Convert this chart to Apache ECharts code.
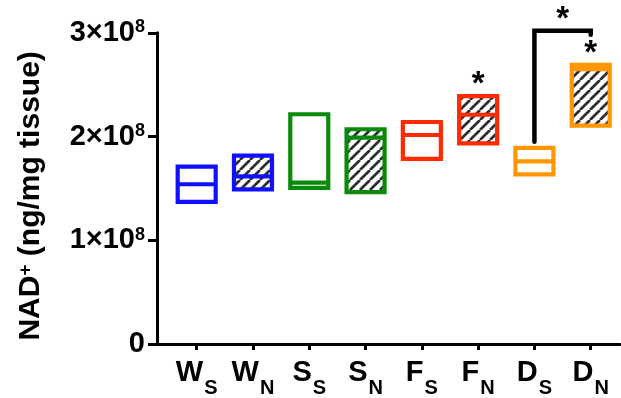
<!DOCTYPE html>
<html>
<head>
<meta charset="utf-8">
<title>NAD+ levels</title>
<script src="https://cdn.jsdelivr.net/npm/echarts@6/dist/echarts.min.js"></script>
<style>
  html, body { margin: 0; padding: 0; background: #fff; }
  #chart { width: 621px; height: 398px; }
</style>
</head>
<body>
<div id="chart"></div>
<script>
// Groups: letter + subscript (S / N)
const categories = ['WS', 'WN', 'SS', 'SN', 'FS', 'FN', 'DS', 'DN'];
// Floating bars: min, max and median line (ng/mg tissue)
const lows    = [1.37e8, 1.49e8, 1.505e8, 1.465e8, 1.785e8, 1.935e8, 1.635e8, 2.105e8];
const highs   = [1.71e8, 1.815e8, 2.215e8, 2.07e8, 2.14e8, 2.39e8, 1.89e8, 2.69e8];
const medians = [1.54e8, 1.615e8, 1.555e8, 1.99e8, 2.015e8, 2.21e8, 1.76e8, 2.65e8];
const hatched = [false, true, false, true, false, true, false, true];
const stars   = ['', '', '', '', '', '*', '', '*'];
// Comparison bracket between D_S and D_N
const bracketX = [6, 7];
const bracketY = [1.95e8, 3.02e8, 2.98e8]; // left end, top, right end
const bracketMark = '*';
const yTicks = [0, 1e8, 2e8, 3e8];

const colors = ['#1010ff', '#1010ff', '#0a8a0a', '#0a8a0a', '#ff2a00', '#ff2a00', '#ff9600', '#ff9600'];
const FONT = '"Liberation Sans", Arial, Helvetica, sans-serif';

// diagonal hatch tile
function makeHatch() {
  const P = 10;
  const c = document.createElement('canvas');
  c.width = P; c.height = P;
  const g = c.getContext('2d');
  g.fillStyle = '#fff';
  g.fillRect(0, 0, P, P);
  g.strokeStyle = '#2e2e2e';
  g.lineWidth = 2.7;
  for (let k = -1; k <= 1; k++) {
    g.beginPath();
    g.moveTo(k * P, P);
    g.lineTo(k * P + P, 0);
    g.stroke();
  }
  return c;
}
const hatchPattern = { image: makeHatch(), repeat: 'repeat' };

const chart = echarts.init(document.getElementById('chart'), null, { renderer: 'canvas' });

const boxData = categories.map((c, i) => [i, lows[i], highs[i], medians[i]]);

function sciLabel(v) {
  if (v === 0) return '{m|0}';
  const e = Math.floor(Math.log10(v));
  const m = Math.round(v / Math.pow(10, e));
  return '{m|' + m + '×10}{s|' + e + '}';
}

const option = {
  animation: false,
  backgroundColor: '#fff',
  grid: { left: 157, right: 1, top: 32.8, bottom: 53.5, containLabel: false },
  xAxis: {
    type: 'value',
    min: -0.705,
    max: 7.52,
    splitLine: { show: false },
    axisLine: { show: true, onZero: false, lineStyle: { color: '#000', width: 3 } },
    axisTick: { show: true, length: 6, lineStyle: { color: '#000', width: 3 },
      customValues: categories.map((c, i) => i) },
    axisLabel: {
      customValues: categories.map((c, i) => i),
      margin: 14,
      formatter: v => {
        const c = categories[Math.round(v)] || '';
        return '{m|' + c[0] + '}{s|' + c[1] + '}';
      },
      rich: {
        m: { fontFamily: FONT, fontWeight: 'bold', fontSize: 29, lineHeight: 29, color: '#000', verticalAlign: 'top' },
        s: { fontFamily: FONT, fontWeight: 'bold', fontSize: 20, lineHeight: 20, color: '#000', verticalAlign: 'top', padding: [20, 0, 0, 1] }
      }
    }
  },
  yAxis: {
    type: 'value',
    min: 0,
    max: 3e8,
    interval: 1e8,
    splitLine: { show: false },
    axisLine: { show: true, onZero: false, lineStyle: { color: '#000', width: 3 } },
    axisTick: { show: true, length: 9, lineStyle: { color: '#000', width: 3 } },
    axisLabel: {
      customValues: yTicks,
      margin: 12,
      formatter: sciLabel,
      rich: {
        m: { fontFamily: FONT, fontWeight: 'bold', fontSize: 29, lineHeight: 29, color: '#000', padding: [5, 0, 5, 0], verticalAlign: 'middle' },
        s: { fontFamily: FONT, fontWeight: 'bold', fontSize: 18, lineHeight: 18, color: '#000', verticalAlign: 'top' }
      }
    },
    name: '{t|NAD}{p|+}{t| (ng/mg tissue)}',
    nameLocation: 'middle',
    nameRotate: 90,
    nameGap: 111,
    nameTextStyle: {
      padding: [0, 15, 0, 0],
      rich: {
        t: { fontFamily: FONT, fontWeight: 'bold', fontSize: 30, lineHeight: 30, color: '#000', verticalAlign: 'bottom' },
        p: { fontFamily: FONT, fontWeight: 'bold', fontSize: 19, lineHeight: 19, color: '#000', verticalAlign: 'top' }
      }
    }
  },
  series: [
    {
      type: 'custom',
      data: boxData,
      encode: { x: 0, y: [1, 2, 3] },
      renderItem: function (params, api) {
        const i = params.dataIndex;
        const x = api.value(0);
        const pLo = api.coord([x, api.value(1)]);
        const pHi = api.coord([x, api.value(2)]);
        const pMed = api.coord([x, api.value(3)]);
        const w = api.size([1, 0])[0] * 0.675;
        const left = pLo[0] - w / 2;
        const h = pLo[1] - pHi[1];
        const col = colors[i];
        const children = [];
        if (hatched[i]) {
          children.push({ type: 'rect', shape: { x: left, y: pHi[1], width: w, height: h },
            style: { fill: hatchPattern } });
        }
        children.push({ type: 'rect', shape: { x: left, y: pHi[1], width: w, height: h },
          style: { fill: 'none', stroke: col, lineWidth: 4.2 } });
        children.push({ type: 'line', shape: { x1: left, y1: pMed[1], x2: left + w, y2: pMed[1] },
          style: { stroke: col, lineWidth: 4.2 } });
        if (stars[i]) {
          children.push({ type: 'text', x: pLo[0], y: pHi[1] - 11,
            style: { text: stars[i], fill: '#000', font: 'bold 33px ' + FONT, align: 'center', verticalAlign: 'middle' } });
        }
        return { type: 'group', children: children };
      },
      z: 2
    },
    {
      type: 'custom',
      data: [[bracketX[0], bracketX[1], bracketY[0], bracketY[1], bracketY[2]]],
      encode: { x: [0, 1], y: [2, 3, 4] },
      renderItem: function (params, api) {
        const a = api.coord([api.value(0), api.value(2)]);
        const t1 = api.coord([api.value(0), api.value(3)]);
        const t2 = api.coord([api.value(1), api.value(3)]);
        const b = api.coord([api.value(1), api.value(4)]);
        return {
          type: 'group',
          children: [
            { type: 'polyline', shape: { points: [a, t1, t2, b] },
              style: { stroke: '#000', lineWidth: 4.5, fill: 'none', lineJoin: 'miter', lineCap: 'round' } },
            { type: 'text', x: (t1[0] + t2[0]) / 2, y: t1[1] - 11,
              style: { text: bracketMark, fill: '#000', font: 'bold 33px ' + FONT, align: 'center', verticalAlign: 'middle' } }
          ]
        };
      },
      z: 3
    }
  ]
};

chart.setOption(option);
</script>
</body>
</html>
